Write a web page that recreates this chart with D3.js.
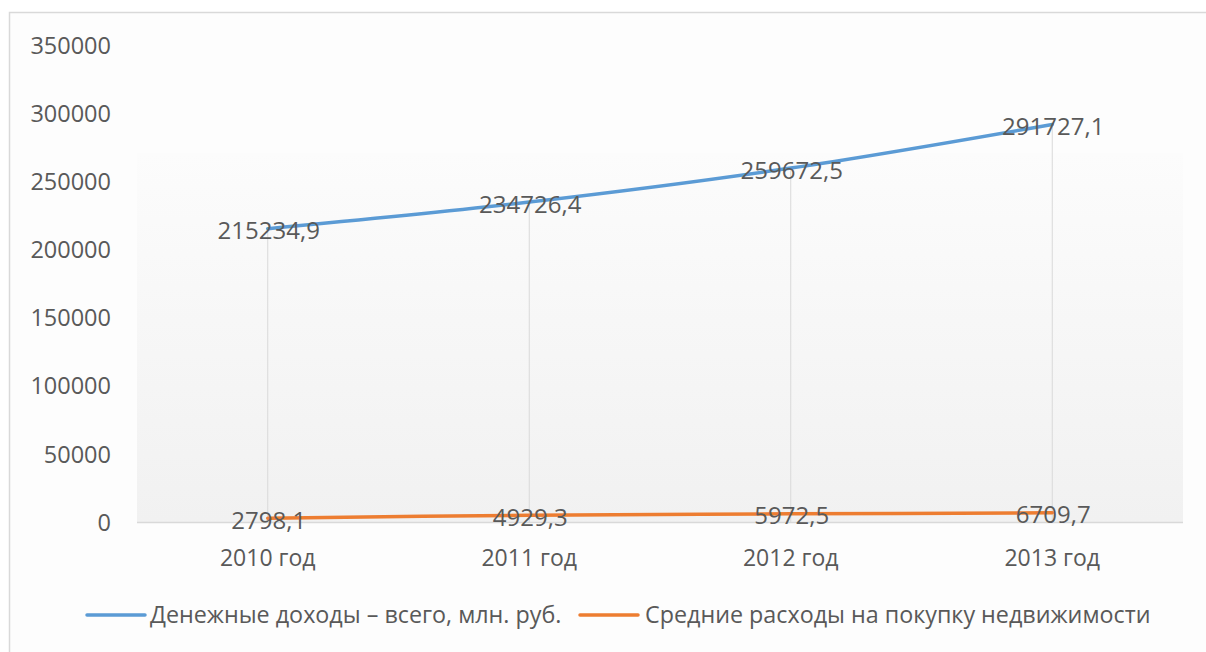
<!DOCTYPE html>
<html>
<head>
<meta charset="utf-8">
<script src="https://cdn.jsdelivr.net/npm/d3@7"></script>
<style>
  html, body { margin: 0; padding: 0; background: #ffffff; }
  svg { display: block; }
  text { font-family: "Open Sans", "Liberation Sans", sans-serif; fill: #595959; }
</style>
</head>
<body>
<svg id="chart" width="1206" height="652"></svg>
<script>
// Years on the category axis
const categories = ["2010 год", "2011 год", "2012 год", "2013 год"];
// Money income, total, mln. rub.
const incomeValues = [215234.9, 234726.4, 259672.5, 291727.1];
// Average spending on real estate purchases
const realEstateValues = [2798.1, 4929.3, 5972.5, 6709.7];
// Value axis ticks
const yTicks = [0, 50000, 100000, 150000, 200000, 250000, 300000, 350000];
const seriesNames = ["Денежные доходы – всего, млн. руб.", "Средние расходы на покупку недвижимости"];
const seriesColors = ["#5b9bd5", "#ed7d31"];

const svg = d3.select("#chart");
const plot = { left: 137, right: 1183, top: 45, bottom: 522 };

// Outer chart border
svg.append("rect")
  .attr("x", 9.5).attr("y", 12.5).attr("width", 1210).attr("height", 660)
  .attr("fill", "#fdfdfd").attr("stroke", "#d9d9d9").attr("stroke-width", 1.5);

// Soft gradient wall behind the plot
const defs = svg.append("defs");
const grad = defs.append("linearGradient").attr("id", "wall").attr("x1", 0).attr("y1", 0).attr("x2", 0).attr("y2", 1);
grad.append("stop").attr("offset", "0%").attr("stop-color", "#fcfcfc");
grad.append("stop").attr("offset", "100%").attr("stop-color", "#f1f1f1");
svg.append("rect")
  .attr("x", plot.left).attr("y", 153)
  .attr("width", plot.right - plot.left).attr("height", plot.bottom - 153)
  .attr("fill", "url(#wall)");

const x = d3.scaleBand().domain(categories).range([plot.left, plot.right]);
const xc = d => x(d) + x.bandwidth() / 2;
const y = d3.scaleLinear().domain([0, 350000]).range([plot.bottom, plot.top]);

// Drop lines from the upper series to the category axis
svg.append("g").selectAll("line")
  .data(categories)
  .join("line")
  .attr("x1", d => xc(d)).attr("x2", d => xc(d))
  .attr("y1", (d, i) => y(incomeValues[i]))
  .attr("y2", plot.bottom)
  .attr("stroke", "#d9d9d9").attr("stroke-width", 1);

// Category axis line
svg.append("line")
  .attr("x1", plot.left).attr("x2", plot.right)
  .attr("y1", plot.bottom + 0.5).attr("y2", plot.bottom + 0.5)
  .attr("stroke", "#d9d9d9").attr("stroke-width", 1.5);

// Value axis labels
const yAxis = svg.append("g")
  .attr("transform", `translate(${111},0)`)
  .call(d3.axisLeft(y).tickValues(yTicks).tickSize(0).tickPadding(0).tickFormat(d3.format("d")));
yAxis.select(".domain").remove();
yAxis.selectAll("text")
  .attr("font-size", 23.5)
  .attr("dy", "0.35em")
  .style("font-family", "'Open Sans', sans-serif")
  .attr("fill", "#595959");

// Category labels
const xAxis = svg.append("g")
  .attr("transform", `translate(0,${plot.bottom})`)
  .call(d3.axisBottom(x).tickSize(0).tickPadding(0));
xAxis.select(".domain").remove();
xAxis.selectAll("text")
  .attr("y", 44)
  .attr("dy", 0)
  .attr("font-size", 23)
  .style("font-family", "'Open Sans', sans-serif")
  .attr("fill", "#595959");

// Series lines
const line = d3.line().x((d, i) => xc(categories[i])).y(d => y(d)).curve(d3.curveCatmullRom.alpha(0.5));
[incomeValues, realEstateValues].forEach((vals, s) => {
  svg.append("path")
    .datum(vals)
    .attr("d", line)
    .attr("fill", "none")
    .attr("stroke", seriesColors[s])
    .attr("stroke-width", 3.5)
    .attr("stroke-linecap", "round");
});

// Data labels, centred on each point
const fmt = v => v.toFixed(1).replace(".", ",");
[incomeValues, realEstateValues].forEach((vals, s) => {
  svg.append("g").selectAll("text")
    .data(vals)
    .join("text")
    .attr("x", (d, i) => xc(categories[i]) + 1)
    .attr("y", d => y(d) + 2)
    .attr("dy", "0.35em")
    .attr("text-anchor", "middle")
    .attr("font-size", 24)
    .text(fmt);
});

// Legend
const legendItems = [
  { x0: 87, tx: 150 },
  { x0: 580, tx: 645 }
];
legendItems.forEach((it, s) => {
  svg.append("line")
    .attr("x1", it.x0).attr("x2", it.x0 + 58)
    .attr("y1", 615).attr("y2", 615)
    .attr("stroke", seriesColors[s]).attr("stroke-width", 3.5)
    .attr("stroke-linecap", "round");
  svg.append("text")
    .attr("x", it.tx).attr("y", 615)
    .attr("dy", "0.35em")
    .attr("font-size", 23.3)
    .text(seriesNames[s]);
});
</script>
</body>
</html>
